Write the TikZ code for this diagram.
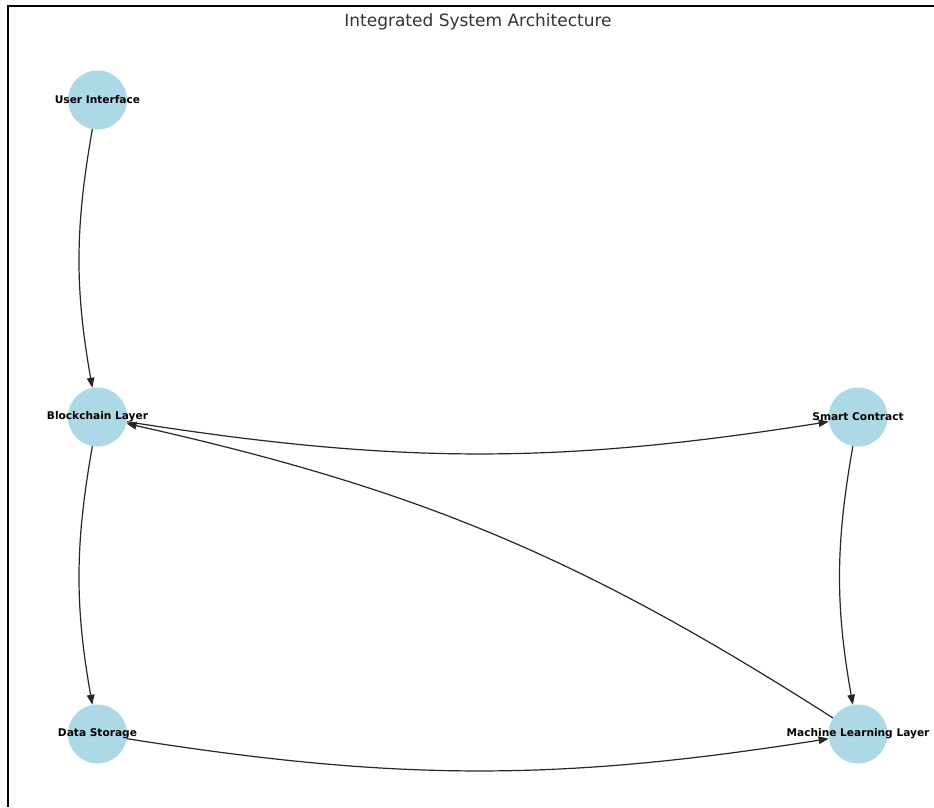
\documentclass[tikz,border=0pt]{standalone}
\usepackage{fontspec}
\setmainfont{DejaVu Sans}
\usetikzlibrary{arrows.meta}
\definecolor{nodeblue}{HTML}{ADD8E6}
\begin{document}
\begin{tikzpicture}[x=1pt,y=-1pt,
  nd/.style={circle,fill=nodeblue,draw=none,minimum size=59pt,inner sep=0pt},
  lbl/.style={font=\fontsize{10.6}{12}\selectfont\bfseries,text=black,inner sep=0pt},
  edge/.style={draw=black!85,line width=1.2pt,-{Triangle[length=10pt,width=7.5pt]}}]
\useasboundingbox (0,0) rectangle (934,807);
\fill[white] (0,0) rectangle (934,807);
\draw[line width=2pt,black] (8,807) -- (8,5.5) -- (934,5.5);
\node[font=\fontsize{17}{20}\selectfont,text=black!80] (title) at (478,21.5) {Integrated System Architecture};
\node[nd,label={[lbl]center:User Interface}] (ui) at (97.5,100) {};
\node[nd,label={[lbl]center:Blockchain Layer}] (bl) at (97.5,417) {};
\node[nd,label={[lbl]center:Data Storage}] (ds) at (97.5,734) {};
\node[nd,label={[lbl]center:Smart Contract}] (sc) at (858,417) {};
\node[nd,label={[lbl]center:Machine Learning Layer}] (ml) at (858,734) {};
\draw[edge] (ui) to[bend right=10] (bl);
\draw[edge] (bl) to[bend right=10] (ds);
\draw[edge] (bl) to[bend right=9] (sc);
\draw[edge] (sc) to[bend right=10] (ml);
\draw[edge] (ds) to[bend right=9] (ml);
\draw[edge] (ml) to[bend right=10] (bl);
\end{tikzpicture}
\end{document}
